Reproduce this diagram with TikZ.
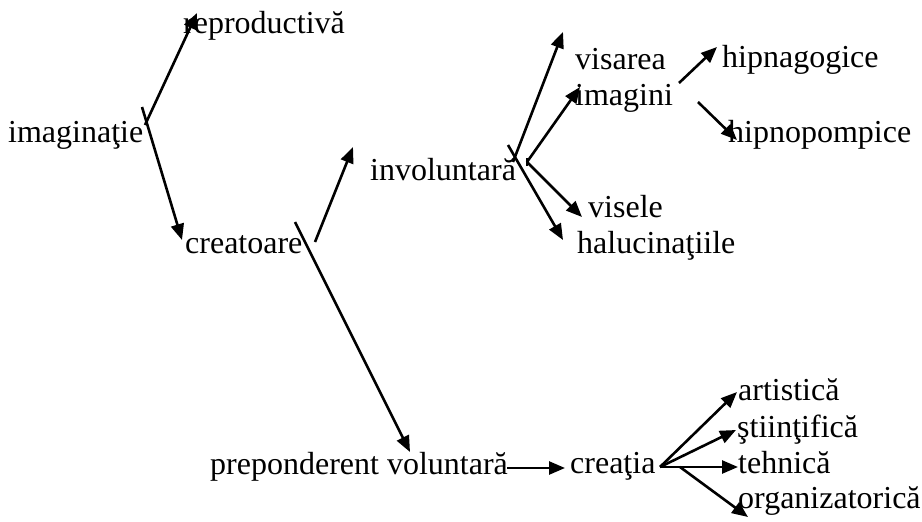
\documentclass[tikz,border=0pt]{standalone}
\usepackage{fontspec}
\setmainfont{Liberation Serif}
\usetikzlibrary{arrows.meta}
\begin{document}
\begin{tikzpicture}[x=1pt,y=-1pt,
  lbl/.style={anchor=base west,inner sep=0pt,font=\fontsize{32}{36}\selectfont},
  arr/.style={line width=2.6pt,-{Triangle[length=16pt,width=13pt]}},
  ln/.style={line width=2.6pt}]
\useasboundingbox (0,0) rectangle (922,522);
% texts
\node[lbl] (imag) at (8,142) {imaginaţie};
\node[lbl] (repr) at (183,33) {reproductivă};
\node[lbl] (crea) at (185,253) {creatoare};
\node[lbl] (invo) at (370,180) {involuntară};
\node[lbl] (visa) at (575,69) {visarea};
\node[lbl] (imgi) at (575,105) {imagini};
\node[lbl] (hgog) at (722,67) {hipnagogice};
\node[lbl] (hpom) at (728,142) {hipnopompice};
\node[lbl] (vise) at (588,217) {visele};
\node[lbl] (halu) at (577,253) {halucinaţiile};
\node[lbl] (prep) at (210,474) {preponderent voluntară};
\node[lbl] (crei) at (570,473) {creaţia};
\node[lbl] (arti) at (738,400) {artistică};
\node[lbl] (stii) at (737,437) {ştiinţifică};
\node[lbl] (tehn) at (738,473) {tehnică};
\node[lbl] (orga) at (738,508) {organizatorică};
% connector points
\coordinate (a1) at (145,125); \coordinate (a1e) at (197,13);
\coordinate (a2) at (142,107); \coordinate (a2e) at (182,240);
\coordinate (b1) at (295,222); \coordinate (b1e) at (410,452);
\coordinate (b2) at (315,242); \coordinate (b2e) at (353,147);
\coordinate (c1) at (513,162); \coordinate (c1e) at (563,32);
\coordinate (c2) at (508,145); \coordinate (c2e) at (563,240);
\coordinate (c0) at (527,162);
\coordinate (c3e) at (580,87); \coordinate (c4e) at (582,217);
\coordinate (d1) at (679,83); \coordinate (d1e) at (717,47);
\coordinate (d2) at (698,102); \coordinate (d2e) at (737,140);
\coordinate (e1) at (507,468); \coordinate (e1e) at (565,468);
\coordinate (f0) at (660,467); \coordinate (f1) at (680,467);
\coordinate (f1e) at (737,392); \coordinate (f2e) at (736,430);
\coordinate (f3e) at (738,467); \coordinate (f4e) at (748,517);
% connectors
\draw[arr] (a1) -- (a1e);
\draw[arr] (a2) -- (a2e);
\draw[arr] (b1) -- (b1e);
\draw[arr] (b2) -- (b2e);
\draw[arr] (c1) -- (c1e);
\draw[arr] (c2) -- (c2e);
\draw[ln] ([yshift=-4pt]c0) -- ([yshift=4pt]c0);
\draw[arr] (c0) -- (c3e);
\draw[arr] (c0) -- (c4e);
\draw[arr] (d1) -- (d1e);
\draw[arr] (d2) -- (d2e);
\draw[arr] (e1) -- (e1e);
\draw[arr] (f0) -- (f1e);
\draw[arr] (f0) -- (f2e);
\draw[arr] (f0) -- (f3e);
\draw[arr] (f1) -- (f4e);
\end{tikzpicture}
\end{document}
